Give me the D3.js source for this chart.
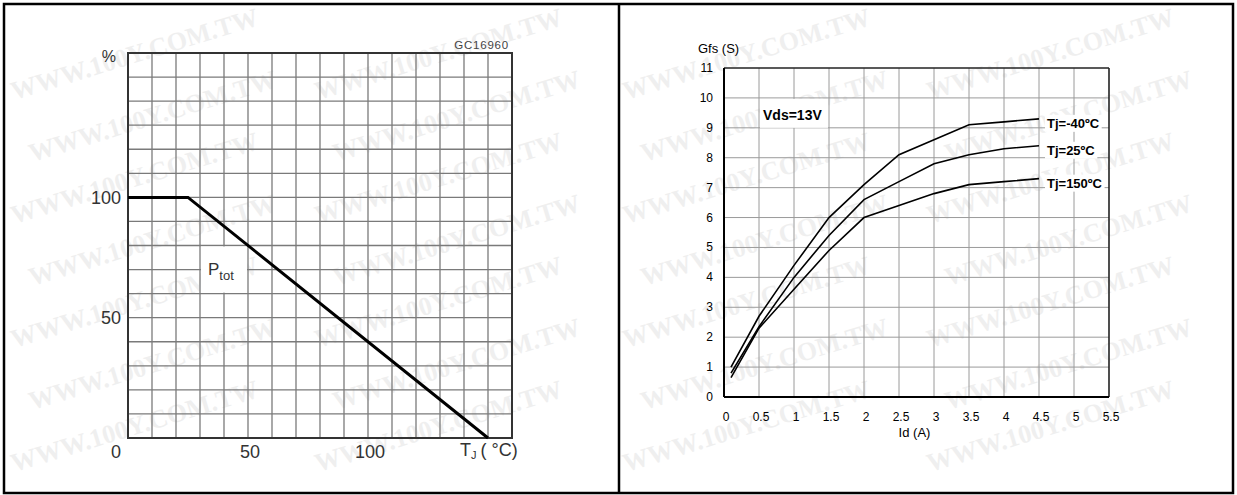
<!DOCTYPE html>
<html lang="en">
<head>
<meta charset="utf-8">
<title>Ptot derating / Gfs vs Id</title>
<script src="https://d3js.org/d3.v7.min.js"></script>
<style>
  body { margin: 0; background: #fff; }
  svg { display: block; }
  .lt { font-family: "Liberation Sans", Arial, sans-serif; fill: #333; }
  .rt { font-family: "Liberation Sans", Arial, sans-serif; fill: #000; }
  .wm { font-family: "Liberation Serif", serif; font-weight: bold; fill: #efefef; }
</style>
</head>
<body>
<svg id="chart" width="1237" height="495"></svg>
<script>
// left chart: power derating
var tjC = [0, 25, 150];
var ptotPct = [100, 100, 0];
var leftXTicks = [50, 100];
var leftYTicks = [50, 100];

// right chart: forward transconductance
var idA = [0.1, 0.5, 1, 1.5, 2, 2.5, 3, 3.5, 4, 4.5];
var gfsM40 = [1.0, 2.7, 4.4, 6.0, 7.1, 8.1, 8.6, 9.1, 9.2, 9.3];
var gfs25 = [0.8, 2.35, 4.0, 5.4, 6.6, 7.2, 7.8, 8.1, 8.3, 8.4];
var gfs150 = [0.65, 2.3, 3.6, 4.9, 6.0, 6.4, 6.8, 7.1, 7.2, 7.3];
var seriesNames = ["Tj=-40ºC", "Tj=25ºC", "Tj=150ºC"];
var rightXTicks = [0, 0.5, 1, 1.5, 2, 2.5, 3, 3.5, 4, 4.5, 5, 5.5];
var rightYTicks = [0, 1, 2, 3, 4, 5, 6, 7, 8, 9, 10, 11];

var svg = d3.select("#chart");

// faint watermark, kept inside the frame
var wm = svg.append("g");
[0, 612].forEach(function(p) {
  [14, 318].forEach(function(cx) {
    for (var r = 0; r < 7; r++) {
      var y = 100 + r * 62, x = p + cx + (r % 2) * 18;
      wm.append("text").attr("class", "wm")
        .attr("x", x).attr("y", y)
        .attr("transform", "rotate(-17," + x + "," + y + ")")
        .style("font-size", "26px")
        .text("WWW.100Y.COM.TW");
    }
  });
});

// ---------- left chart ----------
var xL = d3.scaleLinear().domain([0, 160]).range([128, 512]);
var yL = d3.scaleLinear().domain([0, 160]).range([438, 53]);
var gL = svg.append("g");

gL.selectAll(".vg").data(d3.range(10, 160, 10)).enter().append("line")
  .attr("x1", d => xL(d)).attr("x2", d => xL(d))
  .attr("y1", yL(0)).attr("y2", yL(160))
  .attr("stroke", "#7a7a7a").attr("stroke-width", 1.3);
gL.selectAll(".hg").data(d3.range(10, 160, 10)).enter().append("line")
  .attr("x1", xL(0)).attr("x2", xL(160))
  .attr("y1", d => yL(d)).attr("y2", d => yL(d))
  .attr("stroke", "#7a7a7a").attr("stroke-width", 1.3);

// white box behind Ptot label
gL.append("rect")
  .attr("x", xL(30) + 1).attr("y", yL(80) + 1)
  .attr("width", xL(50) - xL(30) - 2).attr("height", yL(60) - yL(80) - 2)
  .attr("fill", "#fff");

gL.append("rect")
  .attr("x", xL(0)).attr("y", yL(160))
  .attr("width", xL(160) - xL(0)).attr("height", yL(0) - yL(160))
  .attr("fill", "none").attr("stroke", "#333").attr("stroke-width", 2);

gL.append("path")
  .datum(tjC.map((t, i) => [t, ptotPct[i]]))
  .attr("d", d3.line().x(d => xL(d[0])).y(d => yL(d[1])))
  .attr("fill", "none").attr("stroke", "#000").attr("stroke-width", 3);

gL.selectAll(".xl").data(leftXTicks).enter().append("text").attr("class", "lt")
  .attr("x", d => xL(d) + 2).attr("y", 458)
  .attr("text-anchor", "middle").style("font-size", "18px").text(d => d);
gL.append("text").attr("class", "lt")
  .attr("x", xL(0) - 12).attr("y", 458)
  .attr("text-anchor", "middle").style("font-size", "18px").text("0");
gL.selectAll(".yl").data(leftYTicks).enter().append("text").attr("class", "lt")
  .attr("x", xL(0) - 7).attr("y", d => yL(d) + 6.5)
  .attr("text-anchor", "end").style("font-size", "18px").text(d => d);
gL.append("text").attr("class", "lt")
  .attr("x", 116).attr("y", 62)
  .attr("text-anchor", "end").style("font-size", "16px").text("%");
gL.append("text").attr("class", "lt")
  .attr("x", 509).attr("y", 49)
  .attr("text-anchor", "end").style("font-size", "11.5px")
  .style("letter-spacing", "0.8px").style("fill", "#444").text("GC16960");

var pt = gL.append("text").attr("class", "lt")
  .attr("x", 208).attr("y", 275).style("font-size", "17px");
pt.append("tspan").text("P");
pt.append("tspan").attr("dy", 5).style("font-size", "13px").text("tot");

var tj = gL.append("text").attr("class", "lt")
  .attr("x", 460).attr("y", 456).style("font-size", "18px");
tj.append("tspan").text("T");
tj.append("tspan").attr("dy", 3).style("font-size", "11px").text("J");
tj.append("tspan").attr("dy", -3).attr("dx", 4).text("( °C)");

// ---------- right chart ----------
var xR = d3.scaleLinear().domain([0, 5.5]).range([724, 1109]);
var yR = d3.scaleLinear().domain([0, 11]).range([397, 68]);
var gR = svg.append("g");

gR.selectAll(".vg").data(rightXTicks.slice(1, -1)).enter().append("line")
  .attr("x1", d => xR(d)).attr("x2", d => xR(d))
  .attr("y1", yR(0)).attr("y2", yR(11))
  .attr("stroke", "#9a9a9a").attr("stroke-width", 1);
gR.selectAll(".hg").data(rightYTicks.slice(1, -1)).enter().append("line")
  .attr("x1", xR(0)).attr("x2", xR(5.5))
  .attr("y1", d => yR(d)).attr("y2", d => yR(d))
  .attr("stroke", "#9a9a9a").attr("stroke-width", 1);

// white box behind Vds label
gR.append("rect")
  .attr("x", xR(0.5) + 1).attr("y", yR(10) + 1)
  .attr("width", xR(1.5) - xR(0.5) - 2).attr("height", yR(9) - yR(10) - 1)
  .attr("fill", "#fff");
gR.append("text").attr("class", "rt")
  .attr("x", 763).attr("y", 120)
  .style("font-size", "14px").style("font-weight", "bold").text("Vds=13V");

gR.append("line").attr("x1", xR(0)).attr("x2", xR(5.5)).attr("y1", yR(11)).attr("y2", yR(11))
  .attr("stroke", "#222").attr("stroke-width", 1.3);
gR.append("line").attr("x1", xR(5.5)).attr("x2", xR(5.5)).attr("y1", yR(11)).attr("y2", yR(0))
  .attr("stroke", "#222").attr("stroke-width", 1.6);
gR.append("line").attr("x1", xR(0)).attr("x2", xR(0)).attr("y1", yR(11)).attr("y2", yR(0))
  .attr("stroke", "#000").attr("stroke-width", 2);
gR.append("line").attr("x1", xR(0)).attr("x2", xR(5.5)).attr("y1", yR(0)).attr("y2", yR(0))
  .attr("stroke", "#000").attr("stroke-width", 2);

var lineR = d3.line().x(d => xR(d[0])).y(d => yR(d[1]));
var allSeries = [gfsM40, gfs25, gfs150];
allSeries.forEach(function(vals, k) {
  gR.append("path")
    .datum(idA.map((x, i) => [x, vals[i]]))
    .attr("d", lineR)
    .attr("fill", "none").attr("stroke", "#000").attr("stroke-width", 1.6);
  var ly = yR(vals[vals.length - 1]) + 4;
  var t = gR.append("text").attr("class", "rt")
    .attr("x", 1047).attr("y", ly + 5)
    .style("font-size", "13px").style("font-weight", "bold").text(seriesNames[k]);
  var bb = t.node().getBBox();
  gR.insert("rect", "text")
    .attr("x", bb.x - 2).attr("y", bb.y - 1)
    .attr("width", bb.width + 4).attr("height", bb.height + 2)
    .attr("fill", "#fff");
});

gR.selectAll(".xl").data(rightXTicks).enter().append("text").attr("class", "rt")
  .attr("x", d => xR(d) + 2).attr("y", 421)
  .attr("text-anchor", "middle").style("font-size", "12px").text(d => d);
gR.selectAll(".yl").data(rightYTicks).enter().append("text").attr("class", "rt")
  .attr("x", 713).attr("y", d => yR(d) + 4)
  .attr("text-anchor", "end").style("font-size", "12px").text(d => d);
gR.append("text").attr("class", "rt")
  .attr("x", 698).attr("y", 53).style("font-size", "13px").text("Gfs (S)");
gR.append("text").attr("class", "rt")
  .attr("x", (xR(0) + xR(5.5)) / 2 - 2).attr("y", 437)
  .attr("text-anchor", "middle").style("font-size", "13px").text("Id (A)");

// outer frame and divider
svg.append("rect").attr("x", 4).attr("y", 4).attr("width", 1229).attr("height", 489)
  .attr("fill", "none").attr("stroke", "#000").attr("stroke-width", 2.5);
svg.append("line").attr("x1", 619).attr("x2", 619).attr("y1", 4).attr("y2", 493)
  .attr("stroke", "#000").attr("stroke-width", 2.5);
</script>
</body>
</html>
